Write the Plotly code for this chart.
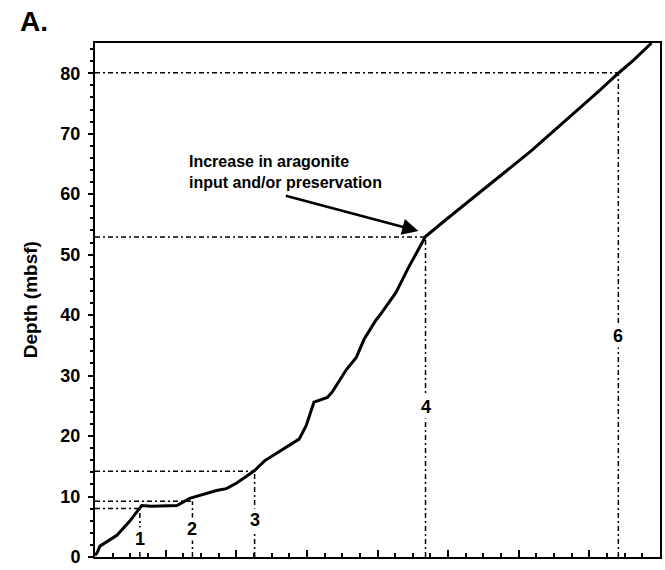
import plotly.graph_objects as go

# Depth curve (x in plot units along the unlabeled horizontal axis, depth in mbsf)
curve_x = [0.0, 0.3, 0.7, 2.5, 3.1, 4.9, 6.6, 8.0, 9.5, 11.6, 13.4, 15.8, 17.2, 18.6,
           20.0, 21.4, 22.6, 24.0, 26.1, 27.9, 28.9, 29.9, 31.0, 32.9, 33.6, 35.6,
           37.0, 38.1, 39.8, 40.6, 42.6, 44.4, 46.6, 46.8, 49.5, 52.45, 54.8, 57.1,
           59.5, 61.8, 64.2, 66.55, 69.0, 71.3, 74.1, 76.3, 78.8]
curve_y = [0.3, 0.7, 1.8, 3.1, 3.6, 5.9, 8.5, 8.4, 8.4, 8.5, 9.7, 10.5, 11.0, 11.3,
           12.2, 13.3, 14.3, 15.9, 17.4, 18.7, 19.5, 21.7, 25.6, 26.4, 27.3, 31.0,
           33.0, 36.0, 39.2, 40.4, 43.7, 47.9, 52.4, 53.0, 55.6, 58.4, 60.5, 62.8,
           65.0, 67.2, 69.7, 72.1, 74.6, 77.0, 80.0, 82.2, 85.0]

# Numbered tie points
point_labels = ["1", "2", "3", "4", "6"]
point_x = [6.35, 13.8, 22.6, 46.8, 74.1]
point_level = [8.0, 9.2, 14.2, 52.9, 80.1]
point_label_y = [3.0, 4.6, 6.1, 24.8, 36.6]

y_ticks = [0, 10, 20, 30, 40, 50, 60, 70, 80]

FONT = "Liberation Sans, Arial, sans-serif"
dash = "5px,3px,2px,3px"

fig = go.Figure()

# horizontal guide lines from the depth axis to each tie point
for px, lvl in zip(point_x, point_level):
    fig.add_trace(go.Scatter(x=[0, px], y=[lvl, lvl], mode="lines",
                             line=dict(color="black", width=1.5, dash=dash),
                             hoverinfo="skip", showlegend=False))
# vertical guide lines from the bottom axis up to each tie point
for px, lvl in zip(point_x, point_level):
    fig.add_trace(go.Scatter(x=[px, px], y=[0, lvl], mode="lines",
                             line=dict(color="black", width=1.5, dash=dash),
                             hoverinfo="skip", showlegend=False))

# main curve
fig.add_trace(go.Scatter(x=curve_x, y=curve_y, mode="lines",
                         line=dict(color="black", width=3),
                         showlegend=False))

annotations = []
for lab, px, ly in zip(point_labels, point_x, point_label_y):
    annotations.append(dict(x=px, y=ly, xref="x", yref="y", text=f"<b>{lab}</b>",
                            showarrow=False, bgcolor="white", borderpad=1,
                            font=dict(family=FONT, size=18, color="black")))

annotations.append(dict(x=13.0, y=63.6, xref="x", yref="y", xanchor="left",
                        align="left", showarrow=False,
                        text="<b>Increase in aragonite<br>input and/or preservation</b>",
                        font=dict(family=FONT, size=16, color="black")))
annotations.append(dict(x=45.8, y=53.9, ax=26.8, ay=59.8, xref="x", yref="y",
                        axref="x", ayref="y", text="", showarrow=True,
                        arrowhead=2, arrowsize=1.3, arrowwidth=2.5,
                        arrowcolor="black"))
annotations.append(dict(x=-0.1146, y=0.5, xref="paper", yref="paper",
                        xanchor="center", yanchor="middle",
                        text="<b>Depth (mbsf)</b>", textangle=-90,
                        showarrow=False,
                        font=dict(family=FONT, size=19, color="black")))
annotations.append(dict(x=-0.1076, y=1.0427, xref="paper", yref="paper",
                        xanchor="center", yanchor="middle",
                        text="<b>A.</b>", showarrow=False,
                        font=dict(family=FONT, size=28, color="black")))

fig.update_layout(
    width=665, height=570,
    margin=dict(l=95, r=3, t=43, b=12),
    paper_bgcolor="white", plot_bgcolor="white",
    annotations=annotations,
    xaxis=dict(range=[0, 80], showgrid=False, zeroline=False,
               showticklabels=False, ticks="inside", tick0=0, dtick=10,
               ticklen=7, tickwidth=1.5, tickcolor="black",
               minor=dict(ticks="inside", dtick=2.5,
                          ticklen=4, tickwidth=1.5, tickcolor="black"),
               showline=True, linecolor="black", linewidth=2, mirror=True),
    yaxis=dict(range=[0, 85], showgrid=False, zeroline=False,
               tick0=y_ticks[0], dtick=y_ticks[1] - y_ticks[0],
               ticks="outside", ticklen=5, tickwidth=2, tickcolor="black",
               ticklabelstandoff=4,
               tickprefix="<b>", ticksuffix="</b>",
               tickfont=dict(family=FONT, size=18, color="black"),
               minor=dict(ticks="outside", dtick=2,
                          ticklen=3, tickwidth=2, tickcolor="black"),
               showline=True, linecolor="black", linewidth=2, mirror=True),
)

fig.write_html("out.html")
